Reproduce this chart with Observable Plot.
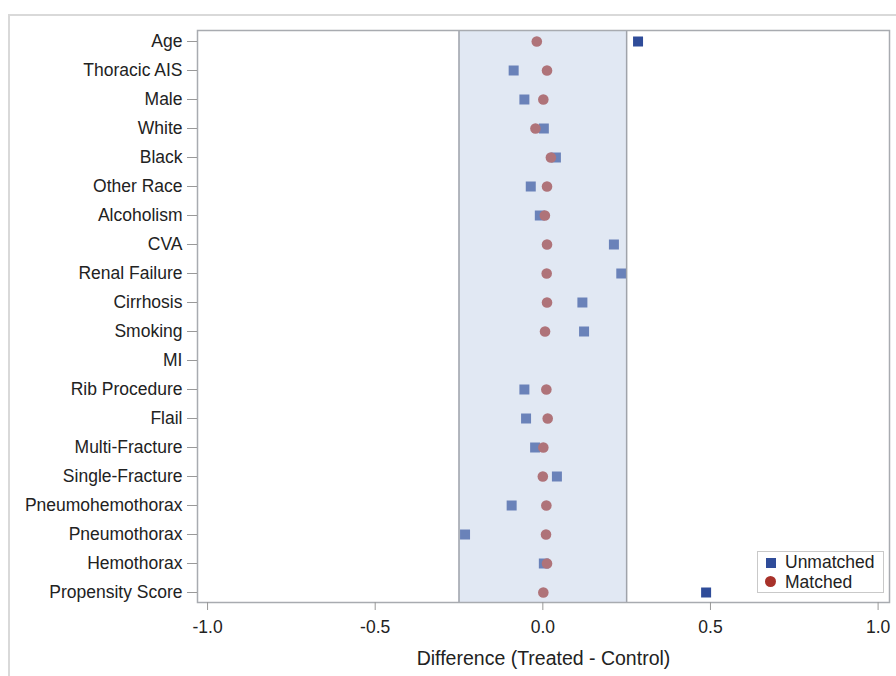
<!DOCTYPE html>
<html>
<head>
<meta charset="utf-8">
<script src="https://cdn.jsdelivr.net/npm/d3@7"></script>
<script src="https://cdn.jsdelivr.net/npm/@observablehq/plot@0.6"></script>
<style>
  html, body { margin: 0; padding: 0; background: #fff; }
  body { width: 896px; height: 676px; position: relative; overflow: hidden; font-family: 'Liberation Sans', Arial, sans-serif; }
  #outer { position: absolute; left: 8px; top: 14px; width: 900px; height: 680px; border-left: 2px solid #d9d9d9; border-top: 2px solid #d9d9d9; box-sizing: border-box; }
  #chart { position: absolute; left: 0; top: 0; }
  #legend { position: absolute; left: 757px; top: 551px; width: 127px; height: 42px; border: 1px solid #c9c9c9; background: #fff; box-sizing: border-box; font-size: 17.5px; color: #222; }
  .item { position: absolute; left: 0; height: 20px; line-height: 20px; }
  .sym { position: absolute; }
  .lab { position: absolute; left: 27px; white-space: nowrap; }
</style>
</head>
<body>
<div id="outer"></div>
<div id="chart"></div>
<div id="legend"></div>
<script>
const categories = ["Age", "Thoracic AIS", "Male", "White", "Black", "Other Race", "Alcoholism", "CVA",
  "Renal Failure", "Cirrhosis", "Smoking", "MI", "Rib Procedure", "Flail", "Multi-Fracture",
  "Single-Fracture", "Pneumohemothorax", "Pneumothorax", "Hemothorax", "Propensity Score"];
const unmatched = [0.284, -0.087, -0.055, 0.003, 0.039, -0.036, -0.009, 0.212, 0.234, 0.118, 0.123, null,
  -0.055, -0.050, -0.023, 0.042, -0.093, -0.232, 0.003, 0.487];
const matched = [-0.018, 0.0125, 0.0015, -0.022, 0.024, 0.0125, 0.006, 0.0125, 0.0115, 0.0125, 0.0066, null,
  0.0105, 0.0145, 0.0015, 0.0, 0.0105, 0.0095, 0.0125, 0.0015];
const band = [-0.25, 0.25];
const xTicks = [-1, -0.5, 0, 0.5, 1];
const seriesNames = ["Unmatched", "Matched"];
const seriesColors = ["#2F4C99", "#A8322A"];

const unm = categories.map((c, i) => ({cat: c, v: unmatched[i]})).filter(d => d.v != null);
const mat = categories.map((c, i) => ({cat: c, v: matched[i]})).filter(d => d.v != null);

const chart = Plot.plot({
  width: 896,
  height: 676,
  marginLeft: 197,
  marginRight: 7,
  marginTop: 30,
  marginBottom: 74,
  style: {fontFamily: "'Liberation Sans', Arial, sans-serif", fontSize: "17.5px", color: "#222", background: "transparent"},
  x: {domain: [-1.03, 1.034]},
  y: {domain: categories, padding: 0.33},
  marks: [
    Plot.dot(unm, {x: "v", y: "cat", symbol: "square", r: 5.64, fill: seriesColors[0], stroke: "none"}),
    Plot.dot(mat, {x: "v", y: "cat", symbol: "circle", r: 5.3, fill: seriesColors[1], stroke: "none"}),
    Plot.rect([band], {x1: d => d[0], x2: d => d[1], fill: "#BACAE4", fillOpacity: 0.43}),
    Plot.ruleX(band, {stroke: "#9fa3aa", strokeWidth: 1.5}),
    Plot.frame({stroke: "#a8abb0", strokeWidth: 1.5}),
    Plot.axisY({tickSize: 10, tickPadding: 5, label: null, stroke: "#999", fill: "#222"}),
    Plot.axisX({ticks: xTicks, tickFormat: d => d.toFixed(1), tickSize: 8, tickPadding: 10, stroke: "#999", fill: "#222",
      label: "Difference (Treated - Control)", labelAnchor: "center", labelArrow: "none", labelOffset: 62})
  ]
});
document.getElementById("chart").appendChild(chart);

// legend
const leg = document.getElementById("legend");
seriesNames.forEach((name, i) => {
  const item = document.createElement("div");
  item.className = "item";
  item.style.top = (i === 0 ? 0 : 20) + "px";
  item.style.width = "100%";
  const sym = document.createElement("div");
  sym.className = "sym";
  if (i === 0) {
    sym.style.cssText = `left:8px;top:6px;width:10px;height:10px;background:${seriesColors[0]};`;
  } else {
    sym.style.cssText = `left:7px;top:4px;width:11px;height:11px;border-radius:50%;background:${seriesColors[1]};`;
  }
  const lab = document.createElement("div");
  lab.className = "lab";
  lab.textContent = name;
  item.appendChild(sym);
  item.appendChild(lab);
  leg.appendChild(item);
});
// axis label font size
chart.querySelectorAll("text").forEach(t => {
  if (t.textContent === "Difference (Treated - Control)") t.style.fontSize = "19.5px";
});
</script>
</body>
</html>
